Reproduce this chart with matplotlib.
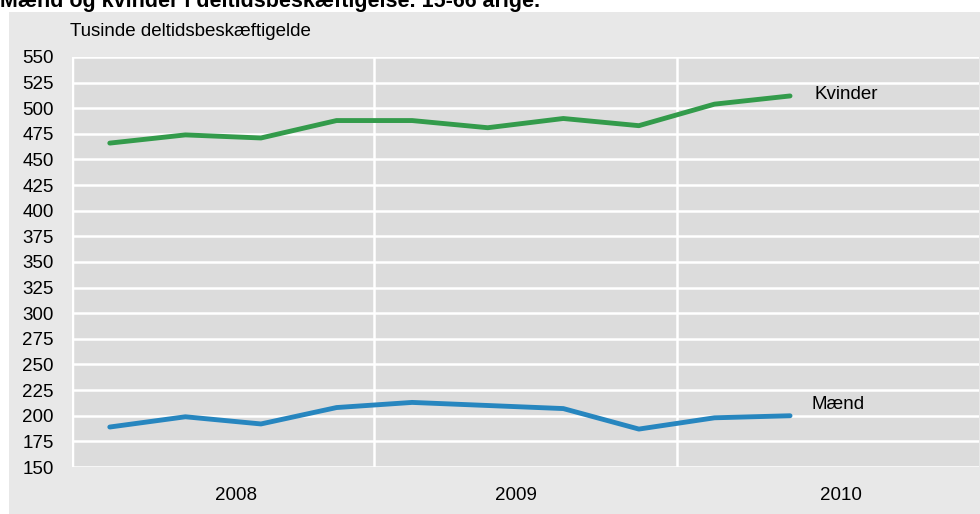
import matplotlib
matplotlib.use('Agg')
import matplotlib.pyplot as plt
from matplotlib.patches import Rectangle
import numpy as np

# --- data: quarterly, 2008K1 - 2010K2 (tusinde) ---
kvinder = [466, 474, 471, 488, 488, 481, 490, 483, 504, 512]
maend = [189, 199, 192, 208, 213, 210, 207, 187, 198, 200]
years = ['2008', '2009', '2010']
year_label_pos = [2.17, 5.87, 10.17]   # in quarter units
yticks = list(range(150, 551, 25))

plt.rcParams['font.family'] = ['Liberation Sans', 'DejaVu Sans']
fs = 13.5

fig = plt.figure(figsize=(9.8, 5.14), dpi=100)
W, H = 980.0, 514.0

# grey panel behind the chart
fig.patches.append(Rectangle((9 / W, 0), 1 - 9 / W, 1 - 12 / H, transform=fig.transFigure,
                             facecolor='#e8e8e8', edgecolor='none', zorder=-5))

# title, cropped at the top of the image
fig.text(0, 1 - 7 / H, 'Mænd og kvinder i deltidsbeskæftigelse. 15-66 årige.',
         fontsize=15.5, fontweight='bold', ha='left', va='baseline')

ax = fig.add_axes([72 / W, 47 / H, (979 - 72) / W, (467 - 57) / H])
ax.set_facecolor('#dcdcdc')

x = np.arange(len(kvinder)) + 0.5
ax.plot(x, kvinder, color='#339b4b', lw=3.5, solid_capstyle='round', zorder=3)
ax.plot(x, maend, color='#2786bf', lw=3.5, solid_capstyle='round', zorder=3)

ax.text(9.83, kvinder[-1] + 1, 'Kvinder', fontsize=fs, va='center', ha='left')
ax.text(9.78, 211, 'Mænd', fontsize=fs, va='center', ha='left')

ax.set_xlim(0, 12)
ax.set_ylim(150, 550)
ax.set_yticks(yticks)
ax.set_yticklabels([str(t) for t in yticks], fontsize=fs)
ax.set_xticks([])
for xv in [4, 8]:
    ax.axvline(xv, color='white', lw=1.8, zorder=1)
for t in yticks:
    ax.axhline(t, color='white', lw=1.8, zorder=1)
ax.axvline(0, color='white', lw=2.5, zorder=1)

for s in ax.spines.values():
    s.set_visible(False)
ax.tick_params(axis='y', length=0, pad=13)

for xp, yl in zip(year_label_pos, years):
    ax.text(xp, -0.07, yl, transform=ax.get_xaxis_transform(), fontsize=fs,
            ha='center', va='center')

fig.text(70 / W, 1 - 31 / H, 'Tusinde deltidsbeskæftigelde', fontsize=fs,
         ha='left', va='center')

fig.savefig('out.png', dpi=100)
